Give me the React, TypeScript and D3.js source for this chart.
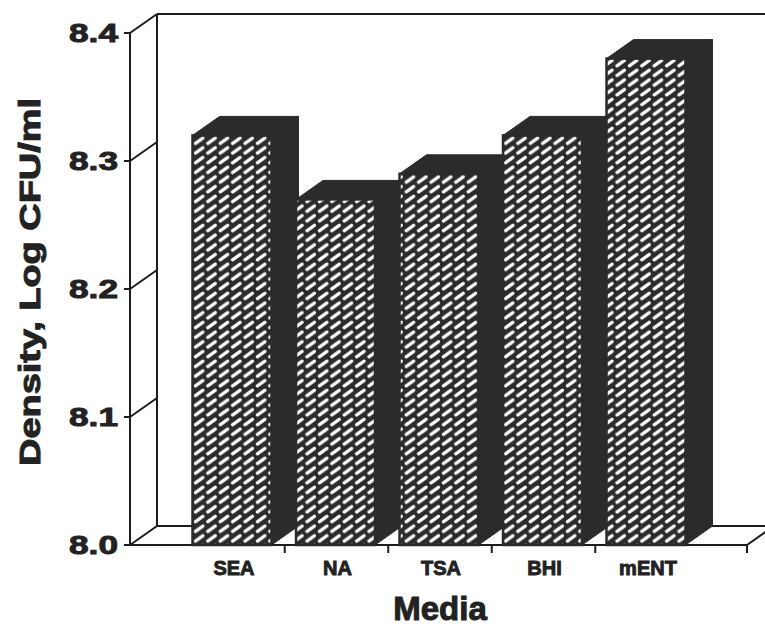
import React from "react";
import * as d3 from "d3";

const categories = ["SEA", "NA", "TSA", "BHI", "mENT"];
const values = [8.32, 8.27, 8.29, 8.32, 8.38];
const yTicks = [8.0, 8.1, 8.2, 8.3, 8.4];
const yTitle = "Density, Log CFU/ml";
const xTitle = "Media";

const W = 765;
const H = 628;
const DX = 27;
const DY = -19;
const X0 = 130;
const XEND = 747;
const DARK = "#2c2a2b";
const LINE = "#1c1c1c";
const FONT = "'Liberation Sans', Arial, sans-serif";

export default function App() {
  const y = d3.scaleLinear().domain([8.0, 8.4]).range([545, 33]);
  const x = d3
    .scaleBand<string>()
    .domain(categories)
    .range([180.25, 697.75])
    .paddingInner(0.237)
    .paddingOuter(0.1185);
  const w = x.bandwidth();
  const yB = y(8.0);
  const yT = y(8.4);
  const step = x.step();
  const gap = step - w;
  const xTickPos = categories.slice(1).map((c) => (x(c) as number) - gap / 2 + 1).concat([XEND]);

  return (
    <svg width={W} height={H} style={{ position: "absolute", left: 0, top: 0, background: "#fff" }}>
      <defs>
        <pattern id="hatch" patternUnits="userSpaceOnUse" width={12.4} height={9.7} x={193} y={0}>
          <rect width={12.4} height={9.7} fill={DARK} />
          <line x1={2.4} y1={7.6} x2={9.8} y2={2.2} stroke="#fff" strokeWidth={3.3} strokeLinecap="round" />
        </pattern>
      </defs>

      {/* back wall */}
      <g stroke={LINE} strokeWidth={2} fill="none">
        <line x1={X0 + DX} y1={yT + DY} x2={X0 + DX} y2={yB + DY} />
        <line x1={X0 + DX} y1={yT + DY} x2={XEND + DX} y2={yT + DY} />
        <line x1={X0 + DX} y1={yB + DY} x2={XEND + DX} y2={yB + DY} />
        <line x1={XEND} y1={yB} x2={XEND + DX} y2={yB + DY} />
      </g>

      {/* front y axis and diagonals */}
      <g stroke={LINE} strokeWidth={2} fill="none">
        <line x1={X0} y1={yT} x2={X0} y2={yB} />
        <line x1={X0} y1={yB} x2={XEND} y2={yB} />
        {yTicks.map((t) => (
          <g key={t}>
            <line x1={X0 - 6} y1={y(t)} x2={X0} y2={y(t)} />
            <line x1={X0} y1={y(t)} x2={X0 + DX} y2={y(t) + DY} />
          </g>
        ))}
        {xTickPos.map((p, i) => (
          <line key={i} x1={p} y1={yB} x2={p} y2={yB + 8} />
        ))}
      </g>

      {/* bars */}
      {categories.map((c, i) => {
        const x1 = x(c) as number;
        const yv = y(values[i]);
        const side = [
          [x1 + w, yv],
          [x1 + w + DX, yv + DY],
          [x1 + w + DX, yB + DY],
          [x1 + w, yB],
        ];
        const top = [
          [x1, yv],
          [x1 + DX, yv + DY],
          [x1 + w + DX, yv + DY],
          [x1 + w, yv],
        ];
        return (
          <g key={c}>
            <polygon points={side.map((p) => p.join(",")).join(" ")} fill={DARK} stroke={DARK} strokeWidth={1} />
            <polygon points={top.map((p) => p.join(",")).join(" ")} fill={DARK} stroke={DARK} strokeWidth={1} />
            <rect x={x1} y={yv} width={w} height={yB - yv} fill="url(#hatch)" stroke={DARK} strokeWidth={2.5} />
          </g>
        );
      })}

      {/* y tick labels */}
      {yTicks.map((t) => (
        <text
          key={t}
          x={118}
          y={y(t) + 9}
          textAnchor="end"
          fontFamily={FONT}
          fontWeight="bold"
          fontSize={25}
          fill="#222"
          stroke="#222"
          strokeWidth={0.9}
          textLength={49}
          lengthAdjust="spacingAndGlyphs"
        >
          {t.toFixed(1)}
        </text>
      ))}

      {/* category labels */}
      {categories.map((c) => (
        <text
          key={c}
          x={(x(c) as number) + w / 2 + 2}
          y={575}
          textAnchor="middle"
          fontFamily={FONT}
          fontWeight="bold"
          fontSize={20}
          fill="#222"
          stroke="#222"
          strokeWidth={0.9}
        >
          {c}
        </text>
      ))}

      {/* axis titles */}
      <text
        x={440}
        y={620}
        textAnchor="middle"
        fontFamily={FONT}
        fontWeight="bold"
        fontSize={33}
        fill="#222"
        stroke="#222"
        strokeWidth={1}
      >
        {xTitle}
      </text>
      <text
        transform="translate(40,282) rotate(-90)"
        textAnchor="middle"
        fontFamily={FONT}
        fontWeight="bold"
        fontSize={30}
        fill="#222"
        stroke="#222"
        strokeWidth={1}
        textLength={368}
        lengthAdjust="spacingAndGlyphs"
      >
        {yTitle}
      </text>
    </svg>
  );
}
